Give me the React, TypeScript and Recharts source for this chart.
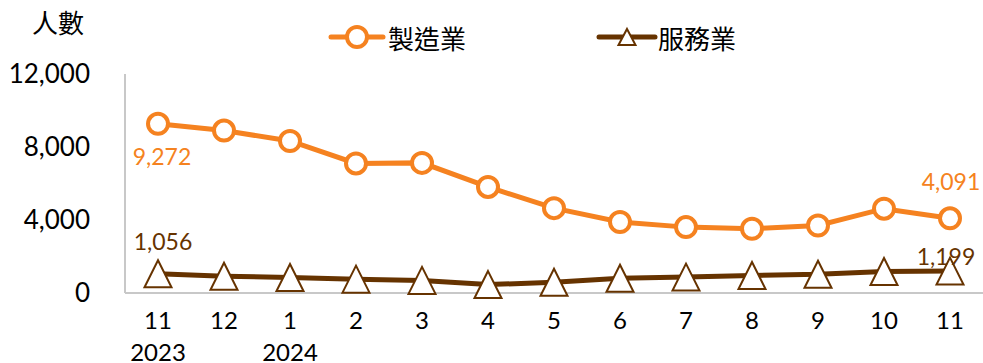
import React from 'react';
import { LineChart, Line, XAxis, YAxis } from 'recharts';

const months = ['11', '12', '1', '2', '3', '4', '5', '6', '7', '8', '9', '10', '11'];
const years = ['2023', '', '2024', '', '', '', '', '', '', '', '', '', ''];
const manufacturing = [9272, 8900, 8330, 7100, 7130, 5810, 4650, 3890, 3610, 3520, 3700, 4620, 4091];
const services = [1056, 920, 850, 760, 690, 460, 590, 810, 870, 960, 1030, 1180, 1199];
const yTicks = [0, 4000, 8000, 12000];
const seriesNames = ['製造業', '服務業'];

const ORANGE = '#F58220';
const BROWN = '#663300';
const NUM_FONT = 'Lato, "Liberation Sans", sans-serif';
const CJK_FONT = '"Noto Sans CJK TC", "Noto Sans CJK SC", sans-serif';

const data = months.map((m, i) => ({
  idx: i,
  month: m,
  year: years[i],
  mfg: manufacturing[i],
  svc: services[i],
}));

const fmt = (v: number) => v.toLocaleString('en-US');

const XTick = (props: any) => {
  const { x, y, payload } = props;
  const d = data[payload.value];
  return (
    <g>
      <text x={x} y={y + 28} textAnchor="middle" fontSize={24} fontFamily={NUM_FONT} fill="#000">
        {d.month}
      </text>
      {d.year ? (
        <text x={x} y={y + 60} textAnchor="middle" fontSize={24} fontFamily={NUM_FONT} fill="#000">
          {d.year}
        </text>
      ) : null}
    </g>
  );
};

const CircleDot = (props: any) => {
  const { cx, cy } = props;
  if (cx == null || cy == null) return null;
  return <circle cx={cx} cy={cy} r={10} fill="#fff" stroke={ORANGE} strokeWidth={4} />;
};

const TriDot = (props: any) => {
  const { cx, cy } = props;
  if (cx == null || cy == null) return null;
  const w = 13.5;
  const h = 13.5;
  return (
    <path
      d={`M${cx},${cy - h} L${cx + w},${cy + h} L${cx - w},${cy + h} Z`}
      fill="#fff"
      stroke={BROWN}
      strokeWidth={2}
    />
  );
};

const makeLabel = (color: string, first: [number, number], last: [number, number]) => (props: any) => {
  const { x, y, value, index } = props;
  const n = data.length;
  if (index !== 0 && index !== n - 1) return null;
  const off = index === 0 ? first : last;
  return (
    <text
      x={x + off[0]}
      y={y + off[1]}
      textAnchor="middle"
      dominantBaseline="central"
      fontSize={23}
      fontFamily={NUM_FONT}
      fill={color}
    >
      {fmt(value)}
    </text>
  );
};

const LegendBox = () => (
  <svg width={983} height={60} style={{ position: 'absolute', left: 0, top: 0, display: 'block' }}>
    <line x1={331} y1={37} x2={383} y2={37} stroke={ORANGE} strokeWidth={5} strokeLinecap="round" />
    <circle cx={357} cy={37} r={10} fill="#fff" stroke={ORANGE} strokeWidth={4} />
    <text x={388} y={37} dominantBaseline="central" fontSize={26} fontFamily={CJK_FONT} fill="#000">
      {seriesNames[0]}
    </text>
    <line x1={599} y1={37} x2={655} y2={37} stroke={BROWN} strokeWidth={5} strokeLinecap="round" />
    <path d="M627,29 L635.5,45 L618.5,45 Z" fill="#fff" stroke={BROWN} strokeWidth={2} />
    <text x={658} y={37} dominantBaseline="central" fontSize={26} fontFamily={CJK_FONT} fill="#000">
      {seriesNames[1]}
    </text>
  </svg>
);

export default function App() {
  return (
    <div style={{ position: 'absolute', left: 0, top: 0, width: 983, height: 363, background: '#fff' }}>
      <LineChart
        width={983}
        height={363}
        data={data}
        margin={{ top: 74, right: 0, bottom: 0, left: 0 }}
      >
        <XAxis
          dataKey="idx"
          type="category"
          scale="point"
          padding={{ left: 33, right: 33 }}
          tickLine={false}
          axisLine={{ stroke: '#C8C8C8', strokeWidth: 2 }}
          tick={<XTick />}
          interval={0}
          height={70}
        />
        <YAxis
          width={125}
          domain={[0, 12000]}
          ticks={yTicks}
          tickFormatter={(v: number) => fmt(v)}
          tickLine={false}
          axisLine={{ stroke: '#C8C8C8', strokeWidth: 2 }}
          tickMargin={29}
          tick={{ fontSize: 26, fontFamily: NUM_FONT, fill: '#000' }}
          interval={0}
        />
        <Line
          dataKey="mfg"
          name={seriesNames[0]}
          stroke={ORANGE}
          strokeWidth={5}
          dot={<CircleDot />}
          activeDot={false}
          isAnimationActive={false}
          label={makeLabel(ORANGE, [4, 32], [1, -37])}
        />
        <Line
          dataKey="svc"
          name={seriesNames[1]}
          stroke={BROWN}
          strokeWidth={5}
          dot={<TriDot />}
          activeDot={false}
          isAnimationActive={false}
          label={makeLabel(BROWN, [5, -33], [-4, -15])}
        />
      </LineChart>
      <LegendBox />
      <div
        style={{
          position: 'absolute',
          left: 32,
          top: 6,
          fontSize: 26,
          fontFamily: CJK_FONT,
          lineHeight: '32px',
          color: '#000',
        }}
      >
        人數
      </div>
    </div>
  );
}
